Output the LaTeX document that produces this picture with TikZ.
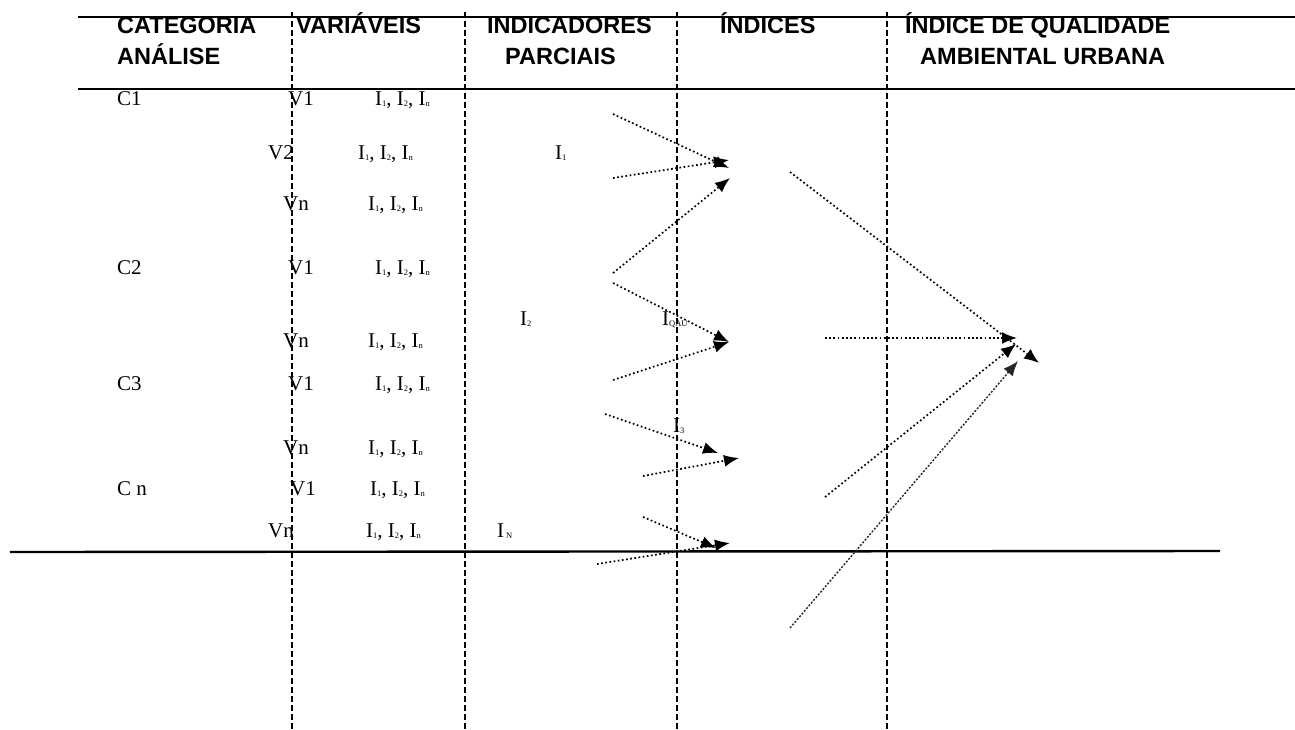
\documentclass[tikz,border=0pt]{standalone}
\usepackage{fontspec}
\setmainfont{Liberation Serif}
\newfontfamily\hdrfont{Liberation Sans}
\usetikzlibrary{arrows.meta}
\newcommand{\sbs}[1]{\raisebox{-1.5pt}{\fontsize{8.5}{8.5}\selectfont #1}}
\newcommand{\ilist}{I\sbs{1}, I\sbs{2}, I\sbs{n}}
\begin{document}
\begin{tikzpicture}[x=1pt,y=-1pt,
  hdr/.style={anchor=base west,inner sep=0pt,font=\hdrfont\bfseries\fontsize{23.5}{24}\selectfont},
  txt/.style={anchor=base west,inner sep=0pt,font=\fontsize{21}{22}\selectfont},
  rulel/.style={line width=2.4pt},
  sepl/.style={line width=1.8pt,dash pattern=on 6pt off 3pt},
  flow/.style={line width=1.7pt,dash pattern=on 1.7pt off 2.5pt,-{Latex[length=15pt,width=12pt]}},
  flowb/.style={line width=1.4pt,dash pattern=on 2pt off 1.6pt,black!85,-{Latex[length=15pt,width=12pt]}},
  ]
\useasboundingbox (0,0) rectangle (1295,729);
% horizontal rules
\coordinate (t0) at (78,17);   \coordinate (t1) at (1295,17);
\coordinate (m0) at (78,89);   \coordinate (m1) at (1295,89);
\coordinate (b0) at (10,552);  \coordinate (b1) at (1220,551);
\draw[rulel] (t0) -- (t1);
\draw[rulel] (m0) -- (m1);
\draw[rulel] (b0) -- (b1);
% dashed separators
\foreach \i/\x in {1/292,2/465,3/677,4/887}{
  \coordinate (s\i a) at (\x,12);
  \coordinate (s\i b) at (\x,729);
  \draw[sepl] (s\i a) -- (s\i b);
}
% headers
\node[hdr] (h1) at (117,33) {CATEGORIA};
\node[hdr] (h1b) at (117,64) {ANÁLISE};
\node[hdr] (h2) at (296,33) {VARIÁVEIS};
\node[hdr] (h3) at (487,33) {INDICADORES};
\node[hdr] (h3b) at (505,64) {PARCIAIS};
\node[hdr] (h4) at (720,33) {ÍNDICES};
\node[hdr] (h5) at (905,33) {ÍNDICE DE QUALIDADE};
\node[hdr] (h5b) at (920,64) {AMBIENTAL URBANA};
% categories
\node[txt] (c1) at (117,105) {C1};
\node[txt] (c2) at (117,274) {C2};
\node[txt] (c3) at (117,390) {C3};
\node[txt] (cn) at (117,495) {C n};
% variables
\node[txt] (v11) at (288,105) {V1};
\node[txt] (v12) at (268,159) {V2};
\node[txt] (v1n) at (283,210) {Vn};
\node[txt] (v21) at (288,274) {V1};
\node[txt] (v2n) at (283,347) {Vn};
\node[txt] (v31) at (288,390) {V1};
\node[txt] (v3n) at (283,454) {Vn};
\node[txt] (vn1) at (290,495) {V1};
\node[txt] (vnn) at (268,537) {Vn};
% indicator lists
\node[txt] (l1) at (375,105) {\ilist};
\node[txt] (l2) at (358,159) {\ilist};
\node[txt] (l3) at (368,210) {\ilist};
\node[txt] (l4) at (375,274) {\ilist};
\node[txt] (l6) at (368,347) {\ilist};
\node[txt] (l7) at (375,390) {\ilist};
\node[txt] (l9) at (368,454) {\ilist};
\node[txt] (l10) at (370,495) {\ilist};
\node[txt] (l11) at (366,537) {\ilist};
% partial indicators
\node[txt] (p1) at (555,159) {I\sbs{1}};
\node[txt] (p2) at (520,325) {I\sbs{2}};
\node[txt] (pn) at (497,537) {I\hspace{2pt}\sbs{N}};
\node[txt] (iq) at (662,325) {I\sbs{QAU}};
\node[txt] (i3) at (673,432) {I\sbs{3}};
% flow arrows
\coordinate (aA) at (613,114); \coordinate (zA) at (729,168);
\coordinate (aB) at (613,178); \coordinate (zB) at (729,160);
\coordinate (aC) at (613,273); \coordinate (zC) at (730,178);
\coordinate (aD) at (613,283); \coordinate (zD) at (729,342);
\coordinate (aE) at (613,380); \coordinate (zE) at (729,342);
\coordinate (aF) at (605,414); \coordinate (zF) at (718,453);
\coordinate (aG) at (643,476); \coordinate (zG) at (739,458);
\coordinate (aH) at (643,517); \coordinate (zH) at (716,548);
\coordinate (aI) at (597,564); \coordinate (zI) at (730,543);
\coordinate (aJ) at (790,172); \coordinate (zJ) at (1039,363);
\coordinate (aK) at (825,338); \coordinate (zK) at (1017,338);
\coordinate (aL) at (825,497); \coordinate (zL) at (1016,344);
\coordinate (aM) at (790,628); \coordinate (zM) at (1018,361);
\foreach \k in {A,B,C,D,E,F,G,H,I,J,K,L}{
  \draw[flow] (a\k) -- (z\k);
}
\draw[flowb] (aM) -- (zM);
\end{tikzpicture}
\end{document}
